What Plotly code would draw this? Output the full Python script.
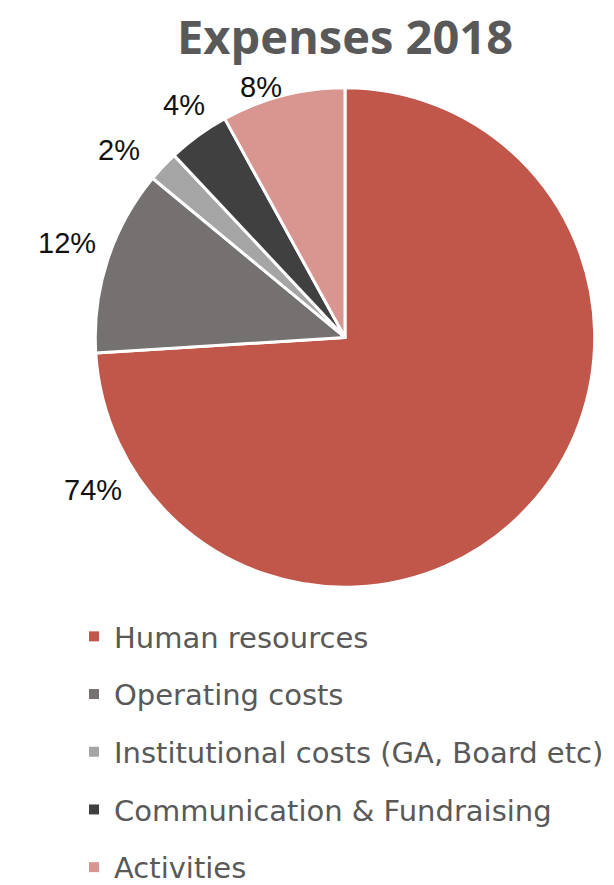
import plotly.graph_objects as go

categories = ["Human resources", "Operating costs", "Institutional costs (GA, Board etc)",
              "Communication & Fundraising", "Activities"]
values = [74, 12, 2, 4, 8]
colors = ["#C0574A", "#767171", "#A5A5A5", "#404040", "#D9958F"]
label_px = [(84.5, 502), (58.5, 245), (111, 147.5), (176, 101), (253, 82)]

W, H = 614, 885
cx, cy, r = 337, 343, 260

fig = go.Figure()
fig.add_trace(go.Pie(
    labels=categories, values=values, sort=False, direction="clockwise", rotation=0,
    marker=dict(colors=colors, line=dict(color="white", width=3)),
    textinfo="none", showlegend=False, hoverinfo="label+percent",
    domain=dict(x=[(cx - r) / W, (cx + r) / W], y=[1 - (cy + r) / H, 1 - (cy - r) / H]),
))

for i, (c, col) in enumerate(zip(categories, colors)):
    fig.add_trace(go.Scatter(
        x=[None], y=[None], mode="markers", name=c,
        marker=dict(symbol="square", size=10, color=col),
        legendgroup=f"g{i}", showlegend=True,
    ))

for v, (px, py) in zip(values, label_px):
    fig.add_annotation(x=px / W, y=1 - py / H, xref="paper", yref="paper",
                       xanchor="center", yanchor="middle",
                       text=f"{v}%", showarrow=False,
                       font=dict(family="Liberation Sans", size=29, color="#111111"))

fig.update_layout(
    width=W, height=H, margin=dict(l=0, r=0, t=0, b=0),
    paper_bgcolor="white", plot_bgcolor="white",
    title=dict(text="<b>Expenses 2018</b>", x=337 / W, xanchor="center", y=1 - 30 / H, yanchor="middle",
               font=dict(family="Open Sans", size=47, color="#595959")),
    xaxis=dict(visible=False), yaxis=dict(visible=False),
    legend=dict(x=66 / W, y=1 - 628 / H, xanchor="left", yanchor="top",
                font=dict(family="DejaVu Sans", size=29, color="#595959"),
                tracegroupgap=17, bgcolor="rgba(0,0,0,0)"),
)

fig.write_html("out.html")
